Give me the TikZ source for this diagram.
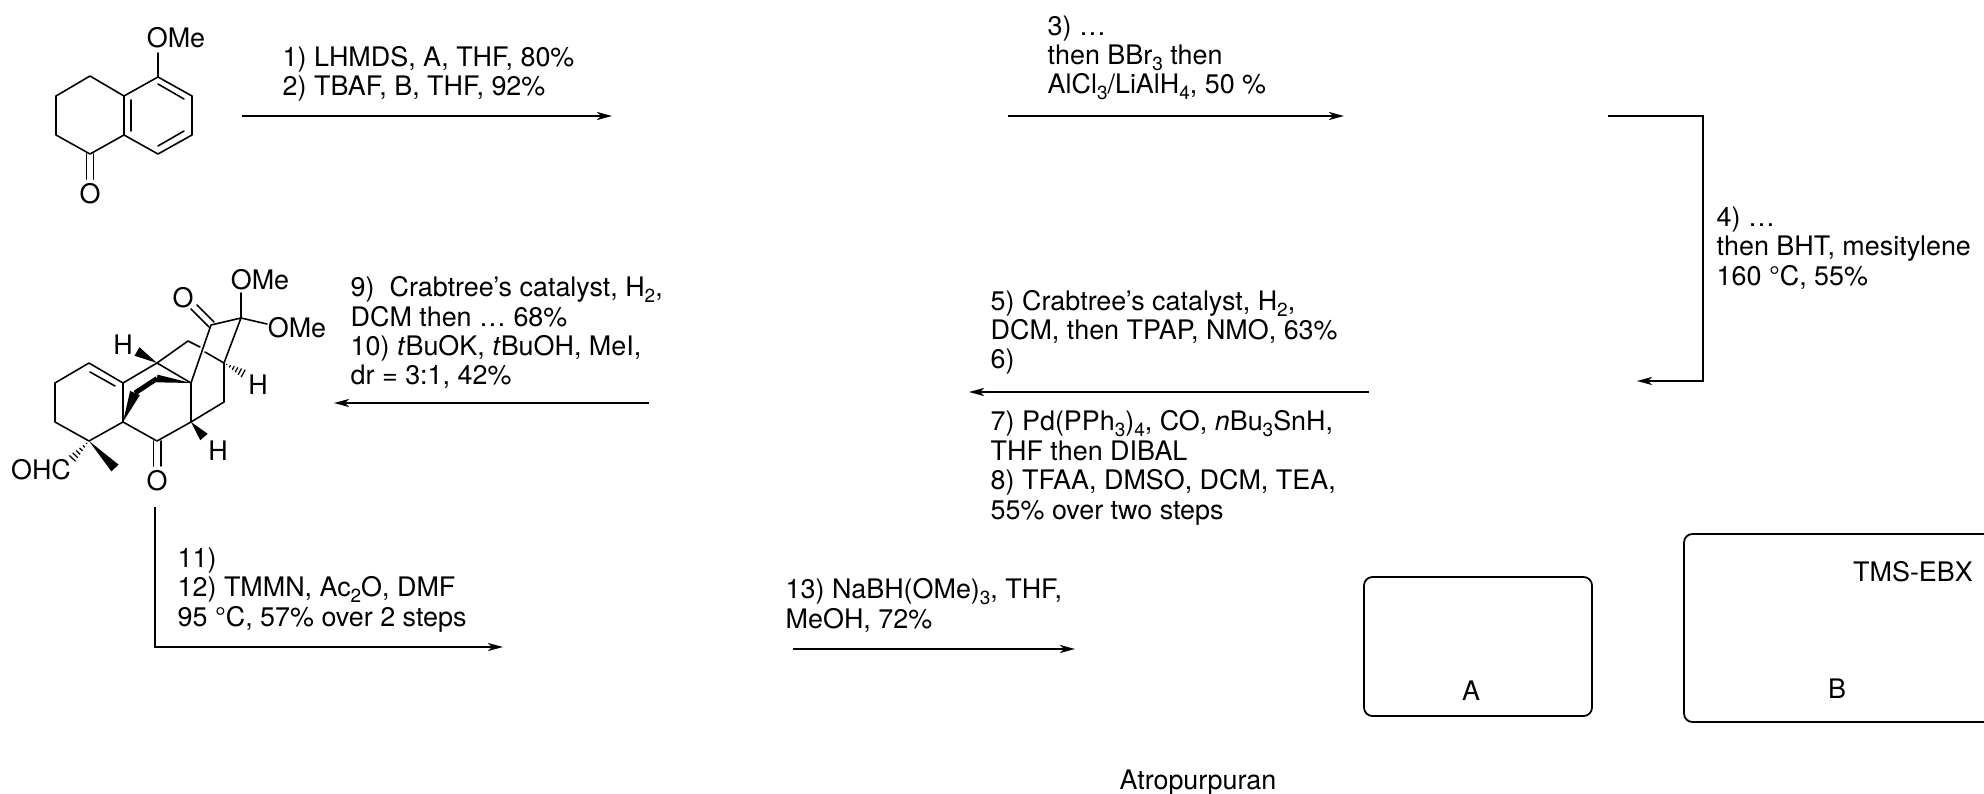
\documentclass[tikz,border=0pt]{standalone}
\usepackage{fontspec}
\setmainfont{TeX Gyre Heros}
\usetikzlibrary{calc,arrows.meta}
\def\wedgebond(#1)(#2)#3{\fill (#1) -- ($(#2)!#3!90:(#1)$) -- ($(#2)!#3!-90:(#1)$) -- cycle;}
\def\hashbond(#1)(#2){\foreach \t in {0.12,0.27,...,1.0} \draw[line width=0.35pt] ($(#1)!\t!(#2)!{\t*1.4pt}!90:(#2)$) -- ($(#1)!\t!(#2)!{\t*1.4pt}!-90:(#2)$);}
\newcommand{\lowsub}[1]{\raisebox{-1.7pt}{\fontsize{5.4}{6}\selectfont #1}}
\begin{document}
\begin{tikzpicture}[x=0.01cm, y=-0.01cm,
	bond/.style={line width=0.45pt, line cap=round, line join=round},
	arrowline/.style={line width=0.5pt, -{Stealth[length=4.3pt, width=2.3pt, inset=1.2pt]}},
	frame/.style={line width=0.5pt, rounded corners=2.4pt},
	reagent/.style={anchor=base west, align=left, inner sep=0pt, font=\fontsize{7.65}{8.35}\selectfont},
	atom/.style={inner sep=0pt, font=\fontsize{7.65}{8.35}\selectfont}]
	%%%%% START %%%%%
	\useasboundingbox (0, 0) rectangle (1984, 794);

	% tetralone
	\coordinate (c1) at (90, 76);
	\coordinate (c2) at (56, 96);
	\coordinate (c3) at (56, 135);
	\coordinate (c4) at (90, 154);
	\coordinate (c4a) at (124, 135);
	\coordinate (c8a) at (124, 96);
	\coordinate (c8) at (158, 77);
	\coordinate (c7) at (192, 96);
	\coordinate (c6) at (192, 135);
	\coordinate (c5) at (158, 154);
	\draw[bond] (c1) -- (c2) -- (c3) -- (c4) -- (c4a) -- (c8a) -- cycle;
	\draw[bond] (c8a) -- (c8) -- (c7) -- (c6) -- (c5) -- (c4a);
	\draw[bond] (131, 100) -- (131, 131);
	\draw[bond] (158, 84) -- (184, 99);
	\draw[bond] (184, 131) -- (158, 146);
	\node[atom] (topOMe) at (176, 38) {OMe};
	\node[atom] (topO) at (90, 194) {O};
	\draw[bond] (c8) -- (158, 53);
	\draw[bond] (86.3, 154) -- (86.3, 179);
	\draw[bond] (93.7, 154) -- (93.7, 179);

	% cage
	\coordinate (a) at (55, 383);
	\coordinate (b) at (89, 363);
	\coordinate (c) at (123, 383);
	\coordinate (d) at (123, 422);
	\coordinate (e) at (89, 441);
	\coordinate (f) at (55, 422);
	\coordinate (g) at (157, 441);
	\coordinate (h) at (191, 422);
	\coordinate (i) at (191, 383);
	\coordinate (j) at (157, 363);
	\coordinate (k) at (188, 341);
	\coordinate (l) at (224, 363);
	\coordinate (m) at (224, 402);
	\coordinate (n) at (241, 318);
	\coordinate (p) at (211, 325);
	\coordinate (q) at (135, 393);
	\coordinate (r) at (157, 378.5);
	\draw[bond] (a) -- (b) -- (c) -- (d) -- (e) -- (f) -- cycle;
	\draw[bond] (90, 372) -- (115, 386);
	\draw[bond] (d) -- (g) -- (h) -- (i) -- (j) -- (c);
	\draw[bond] (h) -- (m) -- (l) -- (n) -- (p) -- (i);
	\draw[bond] (j) -- (k) -- (200, 347);
	\draw[bond] (205, 352) -- (l);
	\draw[bond] (153.5, 441) -- (153.5, 466);
	\draw[bond] (161, 441) -- (161, 466);
	\draw[bond] (209, 327) -- (191, 309);
	\draw[bond] (214, 322) -- (197, 305);
	\draw[bond] (n) -- (241, 293);
	\draw[bond] (n) -- (267, 324);
	\draw[line width=1.4pt] (q) -- (r);
	\wedgebond(d)(q){1.5pt}
	\wedgebond(i)(r){1.1pt}
	\wedgebond(h)(204, 437){1.4pt}
	\wedgebond(j)(137, 351.5){1.4pt}
	\wedgebond(e)(115, 468){1.4pt}
	\hashbond(l)(246, 375)
	\hashbond(e)(70, 461)
	\node[atom] (cageOMeA) at (260, 280) {OMe};
	\node[atom] (cageOMeB) at (297, 328) {OMe};
	\node[atom] (cageO) at (183, 298) {O};
	\node[atom] (cageOb) at (157, 481) {O};
	\node[atom] (cageHa) at (123, 344.5) {H};
	\node[atom] (cageHb) at (258, 385) {H};
	\node[atom] (cageHc) at (218, 451) {H};
	\node[atom] (cageOHC) at (41, 470) {OHC};

	% reaction arrows
	\coordinate (stepAs) at (242, 116);
	\coordinate (stepAe) at (612, 116);
	\coordinate (stepBs) at (1008, 116);
	\coordinate (stepBe) at (1344, 116);
	\coordinate (stepCs) at (1608, 116);
	\coordinate (stepCx) at (1703, 116);
	\coordinate (stepCy) at (1703, 381);
	\coordinate (stepCe) at (1637, 381);
	\coordinate (stepDs) at (1369, 392);
	\coordinate (stepDe) at (969, 392);
	\coordinate (stepEs) at (649, 403);
	\coordinate (stepEe) at (334, 403);
	\coordinate (stepFs) at (155, 507);
	\coordinate (stepFy) at (155, 647);
	\coordinate (stepFe) at (503, 647);
	\coordinate (stepGs) at (793, 649);
	\coordinate (stepGe) at (1075, 649);
	\draw[arrowline] (stepAs) -- (stepAe);
	\draw[arrowline] (stepBs) -- (stepBe);
	\draw[arrowline] (stepCs) -- (stepCx) -- (stepCy) -- (stepCe);
	\draw[arrowline] (stepDs) -- (stepDe);
	\draw[arrowline] (stepEs) -- (stepEe);
	\draw[arrowline] (stepFs) -- (stepFy) -- (stepFe);
	\draw[arrowline] (stepGs) -- (stepGe);

	% reagents
	\node[reagent] (textA) at (282, 96) {1) LHMDS, A, THF, 80\%\\2) TBAF, B, THF, 92\%};
	\node[reagent] (textB) at (1047, 94) {3) …\\then BBr\lowsub{3} then\\AlCl\lowsub{3}/LiAlH\lowsub{4}, 50 \%};
	\node[reagent] (textC) at (1716, 285) {4) …\\then BHT, mesitylene\\160 °C, 55\%};
	\node[reagent] (textD) at (990, 369) {5) Crabtree’s catalyst, H\lowsub{2},\\DCM, then TPAP, NMO, 63\%\\6)};
	\node[reagent] (textE) at (990, 519) {7) Pd(PPh\lowsub{3})\lowsub{4}, CO, \textit{n}Bu\lowsub{3}SnH,\\THF then DIBAL\\8) TFAA, DMSO, DCM, TEA,\\55\% over two steps};
	\node[reagent] (textF) at (350, 385) {9)\ \ Crabtree’s catalyst, H\lowsub{2},\\DCM then … 68\%\\10) \textit{t}BuOK, \textit{t}BuOH, MeI,\\dr = 3:1, 42\%};
	\node[reagent] (textG) at (177, 626) {11)\\12) TMMN, Ac\lowsub{2}O, DMF\\95 °C, 57\% over 2 steps};
	\node[reagent] (textH) at (785, 628) {13) NaBH(OMe)\lowsub{3}, THF,\\MeOH, 72\%};

	% boxes
	\coordinate (boxAa) at (1364, 577);
	\coordinate (boxAb) at (1592, 716);
	\draw[frame] (boxAa) rectangle (boxAb);
	\node[atom] (labelA) at (1471, 691) {A};
	\draw[frame] (2000, 534) -- (1684, 534) -- (1684, 722) -- (2000, 722);
	\node[atom] (labelB) at (1837, 689) {B};
	\node[atom] (labelEBX) at (1913, 572) {TMS-EBX};
	\node[atom] (labelName) at (1198, 783) {Atropurpuran};
	%%%%% END %%%%%
\end{tikzpicture}
\end{document}
